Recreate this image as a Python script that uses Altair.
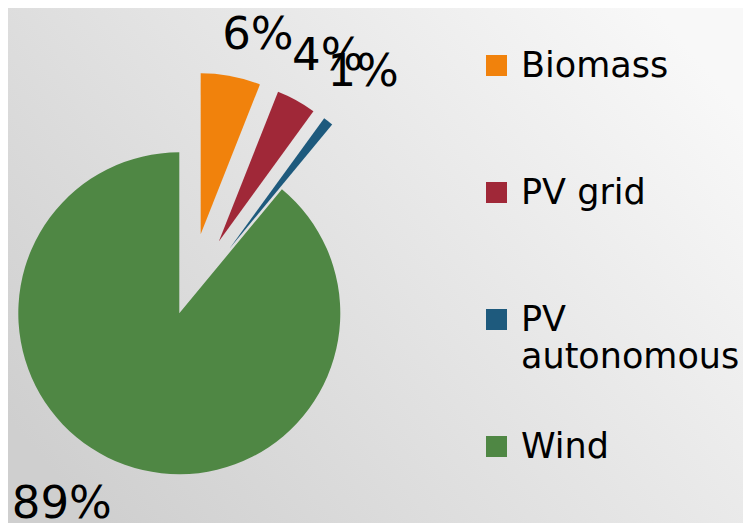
import altair as alt
import pandas as pd

# ---- data ----
categories = ["Biomass", "PV grid", "PV autonomous", "Wind"]
shares = [6, 4, 1, 89]
colors = ["#F1820C", "#A02838", "#1E5A7D", "#4F8744"]

# ---- layout (not data) ----
W, H = 735, 515
CX, CY = 171.3, 305.3          # pie centre in view coordinates
R = 161                        # pie radius
EXPLODE = 82                   # explode distance of the small slices
explode_nudge_deg = {"Biomass": 4.3, "PV grid": 0, "PV autonomous": 0, "Wind": 0}
label_r = {"Biomass": 210, "PV grid": 218, "PV autonomous": 224, "Wind": 221}
label_nudge_deg = {"Biomass": 5.0, "PV grid": 1.2, "PV autonomous": -1.2, "Wind": 12.3}
FONT = "DejaVu Sans"

df = pd.DataFrame({"cat": categories, "value": shares, "idx": list(range(len(categories)))})


def case(d):
    expr = ""
    for k, v in d.items():
        expr += f"datum.cat === '{k}' ? {v} : "
    return expr + "0"


base = (
    alt.Chart(df)
    .transform_joinaggregate(total="sum(value)")
    .transform_window(cum="sum(value)", sort=[alt.SortField("idx")], frame=[None, 0])
    .transform_calculate(
        mid="(datum.cum - datum.value / 2) / datum.total * 2 * PI",
        ex=f"datum.cat === 'Wind' ? 0 : {EXPLODE}",
    )
    .transform_calculate(
        ea=f"datum.mid + ({case(explode_nudge_deg)}) * PI / 180",
    )
    .transform_calculate(
        cx=f"{CX} + datum.ex * sin(datum.ea)",
        cy=f"{CY} - datum.ex * cos(datum.ea)",
        lr=case(label_r),
        la=f"datum.mid + ({case(label_nudge_deg)}) * PI / 180",
        label="format(datum.value / datum.total, '.0%')",
    )
    .transform_calculate(
        lx="datum.cx + datum.lr * sin(datum.la)",
        ly="datum.cy - datum.lr * cos(datum.la)",
    )
)

arcs = base.mark_arc(radius=R).encode(
    theta=alt.Theta("value:Q", stack=True),
    order=alt.Order("idx:Q"),
    x=alt.X("cx:Q", scale=None, axis=None),
    y=alt.Y("cy:Q", scale=None, axis=None),
    color=alt.Color(
        "cat:N",
        scale=alt.Scale(domain=categories, range=colors),
        sort=categories,
        legend=alt.Legend(
            title=None,
            orient="none",
            legendX=471,
            legendY=-6,
            padding=0,
            rowPadding=0,
            clipHeight=127,
            symbolType="square",
            symbolSize=441,
            symbolStrokeWidth=0,
            symbolOpacity=1,
            labelFont=FONT,
            labelFontSize=35,
            labelColor="#000000",
            labelOffset=7,
            labelLimit=400,
            labelExpr="datum.label === 'PV autonomous' ? ['PV', 'autonomous'] : datum.label",
        ),
    ),
)

labels = base.mark_text(font=FONT, fontSize=45, color="#000000", align="center", baseline="middle", dy=3).encode(
    x=alt.X("lx:Q", scale=None, axis=None),
    y=alt.Y("ly:Q", scale=None, axis=None),
    text="label:N",
)

bg = alt.Chart(pd.DataFrame({"a": [0]})).mark_rect(
    color=alt.LinearGradient(
        gradient="linear",
        stops=[alt.GradientStop(color="#cfcfcf", offset=0), alt.GradientStop(color="#f8f8f8", offset=1)],
        x1=0, y1=0.8, x2=1, y2=0.2,
    )
).encode(x=alt.value(0), x2=alt.value(W), y=alt.value(0), y2=alt.value(H))

chart = alt.layer(bg, arcs, labels).properties(
    width=W, height=H, padding=0, autosize=alt.AutoSizeParams(type="none")
).configure_view(stroke=None)

chart.save("out.html", embed_options={"renderer": "svg", "actions": False})
